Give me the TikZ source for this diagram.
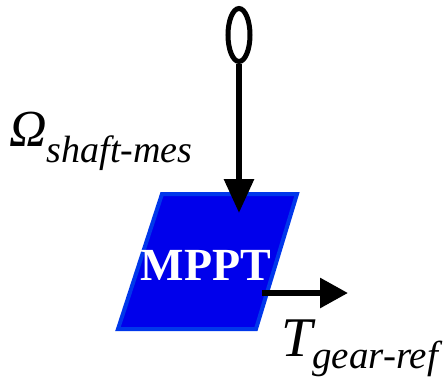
\documentclass[tikz,border=0pt]{standalone}
\usepackage{fontspec}
\setmainfont{Liberation Serif}
\usetikzlibrary{arrows.meta,shapes.geometric}
\definecolor{mpptfill}{RGB}{0,0,235}
\definecolor{mpptedge}{RGB}{0,55,235}
\tikzset{
  sig/.style={line width=6pt,-{Triangle[width=29pt,length=34pt]}},
  lbl/.style={inner sep=0pt,anchor=base west},
}
\begin{document}
\begin{tikzpicture}[x=1pt,y=-1pt]
\useasboundingbox (0,0) rectangle (448,378);
% block
\draw[line width=4pt,draw=mpptedge,fill=mpptfill,line join=miter]
  (162,194) -- (297,194) -- (256,329) -- (118,329) -- cycle;
\node[inner sep=0pt,anchor=base,text=white,font=\fontsize{46}{46}\selectfont\bfseries] (mppt) at (206,280) {MPPT};
\coordinate (intop) at (239,213);
\coordinate (outstart) at (262,293);
\coordinate (outend) at (348,293);
% sensor
\node[draw,ellipse,line width=5pt,minimum width=22pt,minimum height=53pt,inner sep=0pt] (sensor) at (239,35) {};
\draw[sig] (sensor.south) -- (intop);
\draw[line width=6pt,-{Triangle[width=29pt,length=28pt]}] (outstart) -- (outend);
% labels
\node[lbl] (omega) at (9,146) {\fontsize{52}{52}\selectfont\itshape Ω\lower16pt\hbox{\fontsize{38}{38}\selectfont shaft-mes}};
\node[lbl] (torque) at (281,356) {\fontsize{56}{56}\selectfont\itshape T\lower12pt\hbox{\fontsize{39}{39}\selectfont gear-ref}};
\end{tikzpicture}
\end{document}
